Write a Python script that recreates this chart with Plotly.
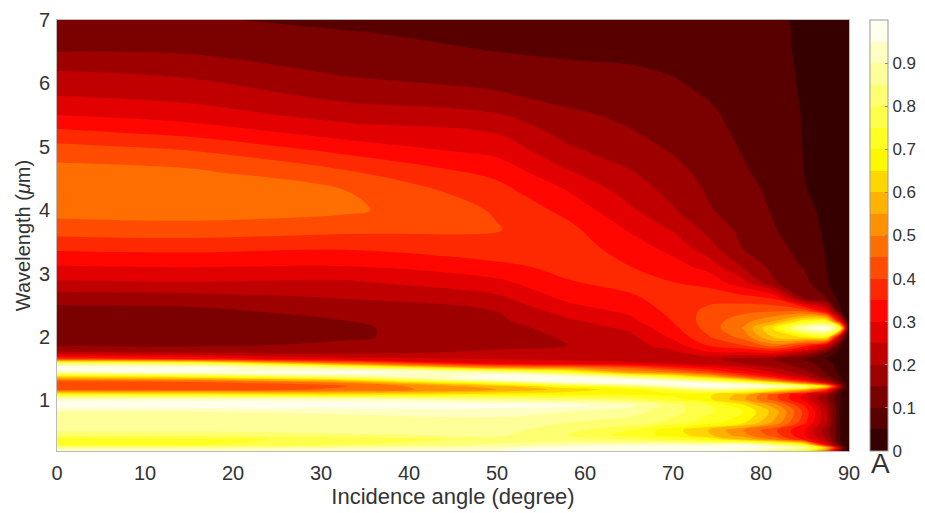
import plotly.graph_objects as go

angles = [0, 15, 33, 50, 58, 65, 70, 74, 78, 81.5, 85, 87.5, 89, 90]
wavelengths = [7.0, 6.8, 6.5, 6.2, 5.8, 5.5, 5.2, 4.9, 4.6, 4.3, 4.0, 3.7, 3.4, 3.1, 2.85, 2.6, 2.4, 2.25, 2.14,
               2.0, 1.87, 1.75, 1.65, 1.58, 1.51, 1.44, 1.37, 1.31, 1.27, 1.22, 1.17, 1.09, 1.02, 0.93,
               0.82, 0.65, 0.53, 0.45, 0.38, 0.3, 0.25, 0.2]
absorptance = [
    [.115, .105, .09, .082, .078, .075, .07, .065, .06, .055, .045, .03, .015, 0],
    [.13, .12, .102, .09, .085, .082, .078, .07, .062, .056, .045, .03, .015, 0],
    [.15, .145, .125, .10, .095, .09, .085, .072, .065, .057, .045, .03, .015, 0],
    [.20, .185, .14, .125, .107, .105, .097, .082, .07, .06, .045, .03, .015, 0],
    [.25, .235, .185, .157, .135, .125, .11, .098, .077, .064, .046, .03, .015, 0],
    [.30, .275, .23, .205, .16, .14, .12, .108, .085, .068, .047, .032, .015, 0],
    [.37, .34, .28, .25, .185, .155, .135, .118, .09, .073, .047, .033, .015, 0],
    [.43, .41, .345, .29, .215, .175, .148, .125, .098, .078, .048, .034, .015, 0],
    [.47, .46, .405, .335, .255, .205, .165, .135, .105, .084, .049, .036, .015, 0],
    [.49, .485, .45, .37, .30, .23, .185, .145, .115, .09, .052, .037, .015, 0],
    [.47, .475, .46, .395, .335, .26, .205, .155, .125, .095, .06, .04, .015, 0],
    [.425, .43, .415, .403, .365, .295, .245, .185, .135, .103, .068, .042, .015, 0],
    [.36, .365, .355, .385, .38, .325, .285, .22, .148, .117, .08, .045, .018, 0],
    [.295, .30, .295, .335, .365, .352, .32, .285, .195, .135, .095, .048, .02, 0],
    [.24, .245, .24, .285, .345, .365, .352, .335, .27, .155, .115, .053, .025, 0],
    [.17, .175, .20, .235, .31, .34, .37, .385, .375, .35, .15, .10, .03, 0],
    [.13, .135, .17, .20, .27, .31, .365, .415, .44, .45, .45, .30, .06, 0],
    [.115, .125, .15, .19, .24, .285, .352, .425, .48, .55, .68, .70, .30, 0],
    [.105, .115, .143, .18, .22, .26, .335, .42, .505, .66, .93, 1.0, .75, 0],
    [.105, .112, .143, .18, .205, .235, .31, .395, .47, .61, .66, .68, .20, 0],
    [.145, .14, .16, .187, .20, .228, .275, .355, .40, .48, .38, .25, .06, 0],
    [.21, .20, .19, .21, .225, .24, .235, .29, .29, .30, .20, .09, .03, 0],
    [.40, .35, .27, .25, .24, .22, .21, .21, .18, .15, .09, .045, .02, 0],
    [.85, .80, .50, .30, .28, .27, .25, .22, .20, .17, .12, .07, .03, 0],
    [1.0, 1.0, .85, .55, .52, .45, .37, .32, .26, .20, .14, .08, .03, 0],
    [.90, .95, 1.0, .90, .75, .55, .50, .42, .32, .25, .17, .09, .04, 0],
    [.62, .68, .85, 1.0, .98, .85, .72, .60, .45, .33, .22, .12, .05, 0],
    [.46, .48, .60, .92, 1.0, 1.0, .92, .82, .68, .50, .32, .17, .07, 0],
    [.42, .42, .50, .72, .90, .98, 1.0, .95, .88, .72, .50, .30, .10, 0],
    [.40, .41, .45, .58, .70, .80, .92, 1.0, 1.0, .97, .85, .62, .20, 0],
    [.42, .42, .46, .55, .62, .68, .76, .85, .82, .72, .58, .38, .10, 0],
    [.72, .70, .65, .68, .68, .70, .68, .66, .58, .42, .28, .17, .05, 0],
    [.93, .93, .92, .85, .82, .78, .72, .66, .56, .42, .28, .15, .05, 0],
    [1.0, 1.0, 1.0, .98, .97, .92, .82, .75, .65, .52, .34, .18, .05, 0],
    [.90, .90, .91, .92, .90, .87, .82, .76, .70, .58, .38, .20, .05, 0],
    [.87, .87, .87, .88, .85, .83, .78, .72, .66, .54, .36, .20, .05, 0],
    [.86, .86, .87, .87, .82, .75, .67, .60, .50, .41, .30, .17, .05, 0],
    [.82, .82, .84, .86, .80, .73, .68, .61, .52, .43, .30, .18, .05, 0],
    [.72, .74, .76, .82, .82, .80, .75, .70, .60, .50, .34, .20, .05, 0],
    [.72, .74, .80, .86, .90, .92, .93, .92, .95, .85, .70, .28, .07, 0],
    [.88, .88, .90, .93, .98, 1.0, 1.0, 1.0, 1.0, .97, .90, .60, .20, 0],
    [.95, .95, .95, .95, .96, .97, .97, .95, .90, .82, .70, .45, .10, 0],
]
band_colors = ["#240000", "#490000", "#6d0000", "#920000", "#b60000", "#db0000", "#ff0000",
               "#ff2400", "#ff4900", "#ff6d00", "#ff9200", "#ffb600", "#ffdb00", "#ffff00",
               "#ffff2a", "#ffff55", "#ffff80", "#ffffaa", "#ffffd4", "#ffffff"]
x_ticks = [0, 10, 20, 30, 40, 50, 60, 70, 80, 90]
y_ticks = [1, 2, 3, 4, 5, 6, 7]
bar_ticks = [0, 0.1, 0.2, 0.3, 0.4, 0.5, 0.6, 0.7, 0.8, 0.9]
bar_labels = ["0", "0.1", "0.2", "0.3", "0.4", "0.5", "0.6", "0.7", "0.8", "0.9"]

FONT = "Liberation Sans, Arial, sans-serif"
TXT = "#333333"
scale = [[i / (len(band_colors) - 1), c] for i, c in enumerate(band_colors)]

fig = go.Figure(go.Contour(
    x=angles, y=wavelengths, z=absorptance,
    colorscale=scale, zmin=0, zmax=1,
    contours=dict(coloring="fill", start=0, end=1, size=0.05, showlines=False),
    line=dict(width=0, smoothing=1),
    colorbar=dict(
        x=1.0265, xanchor="left", y=0, yanchor="bottom",
        len=1, lenmode="fraction", thickness=18, thicknessmode="pixels",
        tickvals=bar_ticks, ticktext=bar_labels, ticks="inside", ticklen=3, tickcolor="#888888",
        tickfont=dict(family=FONT, size=17, color=TXT),
        outlinecolor="#999999", outlinewidth=1, xpad=0, ypad=0,
    ),
))
fig.update_layout(
    width=917, height=505, autosize=False,
    margin=dict(l=49, r=76, t=12, b=62, autoexpand=False),
    paper_bgcolor="white", plot_bgcolor="white",
    font=dict(family=FONT, color=TXT),
    xaxis=dict(range=[0, 90], tickvals=x_ticks, showgrid=False, zeroline=False,
               showline=True, linecolor="#bbbbbb", mirror=True, ticks="", ticklabelstandoff=4,
               tickfont=dict(size=20, color=TXT),
               title=dict(text="Incidence angle (degree)", font=dict(size=22, color=TXT), standoff=5)),
    yaxis=dict(range=[0.2, 7], tickvals=y_ticks, showgrid=False, zeroline=False,
               showline=True, linecolor="#bbbbbb", mirror=True, ticks="", ticklabelstandoff=2,
               tickfont=dict(size=20, color=TXT),
               title=dict(text="Wavelength (<i>\u03bc</i>m)", font=dict(size=20, color=TXT), standoff=2)),
    annotations=[dict(text="A", xref="paper", yref="paper", x=1.0265, y=0.012, xanchor="left", yanchor="top",
                      showarrow=False, font=dict(size=28, color=TXT, family=FONT), xshift=-1)],
)
fig.write_html("out.html")
